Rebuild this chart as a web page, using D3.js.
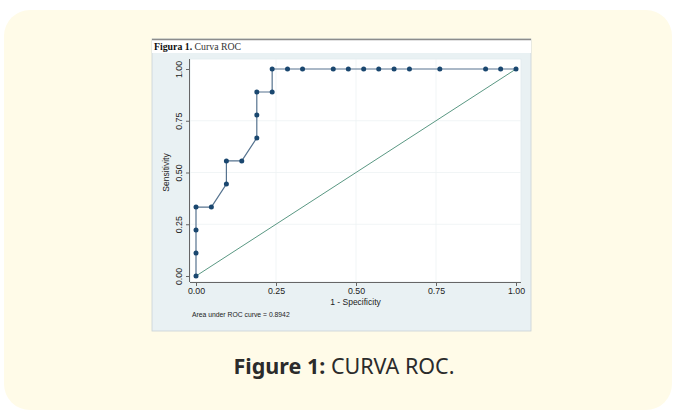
<!DOCTYPE html>
<html>
<head>
<meta charset="utf-8">
<script src="https://cdn.jsdelivr.net/npm/d3@7"></script>
<style>
  body { margin: 0; background: #fff; }
  svg { display: block; }
</style>
</head>
<body>
<svg id="chart" width="675" height="410"></svg>
<script>
// datos de la curva ROC
var fpr = [0, 0, 0, 0, 0.048, 0.095, 0.095, 0.143, 0.190, 0.190, 0.190, 0.238, 0.238,
           0.286, 0.333, 0.429, 0.476, 0.524, 0.571, 0.619, 0.667, 0.762, 0.905, 0.952, 1];
var tpr = [0, 0.111, 0.222, 0.333, 0.333, 0.444, 0.556, 0.556, 0.667, 0.778, 0.889, 0.889, 1,
           1, 1, 1, 1, 1, 1, 1, 1, 1, 1, 1, 1];
var tickValues = [0, 0.25, 0.5, 0.75, 1];
var tickLabels = ["0.00", "0.25", "0.50", "0.75", "1.00"];
var aucText = "Area under ROC curve = 0.8942";

var svg = d3.select("#chart");

// tarjeta de fondo
svg.append("rect")
  .attr("x", 4).attr("y", 10).attr("width", 668).attr("height", 400)
  .attr("rx", 26).attr("fill", "#fffbe8");

// imagen de la figura
var fig = svg.append("g");
fig.append("rect").attr("x", 152).attr("y", 39).attr("width", 379).attr("height", 292)
  .attr("fill", "#e9f1f3").attr("stroke", "#c9d2d6").attr("stroke-width", 0.8);
fig.append("rect").attr("x", 152).attr("y", 39).attr("width", 379).attr("height", 14)
  .attr("fill", "#fff");
fig.append("line").attr("x1", 152).attr("x2", 531).attr("y1", 39.5).attr("y2", 39.5)
  .attr("stroke", "#8c8c8c").attr("stroke-width", 1.5);
var t = fig.append("text").attr("x", 154).attr("y", 50)
  .attr("font-family", "Liberation Serif").attr("font-size", 9.8).attr("fill", "#333");
t.append("tspan").attr("font-weight", "bold").attr("fill", "#111").text("Figura 1. ");
t.append("tspan").text("Curva ROC");

// region del grafico
var x = d3.scaleLinear().domain([0, 1]).range([196, 516]);
var y = d3.scaleLinear().domain([0, 1]).range([276, 69]);

fig.append("rect").attr("x", 190).attr("y", 59).attr("width", 331).attr("height", 223)
  .attr("fill", "#fff").attr("stroke", "#e2eaee").attr("stroke-width", 0.8);

// lineas de cuadricula
var grid = fig.append("g").attr("stroke", "#edf2f4").attr("stroke-width", 0.8);
grid.selectAll(".gx").data(tickValues.slice(1, 4)).enter().append("line")
  .attr("x1", function (d) { return x(d); }).attr("x2", function (d) { return x(d); })
  .attr("y1", 59).attr("y2", 282);
grid.selectAll(".gy").data(tickValues.slice(1, 4)).enter().append("line")
  .attr("y1", function (d) { return y(d); }).attr("y2", function (d) { return y(d); })
  .attr("x1", 190).attr("x2", 521);

// ejes
var xAxis = d3.axisBottom(x).tickValues(tickValues).tickSize(4).tickSizeOuter(0)
  .tickFormat(function (d, i) { return tickLabels[i]; });
var gx = fig.append("g").attr("transform", "translate(0,282)").call(xAxis);
gx.select(".domain").attr("d", "M190,0.5H521").attr("stroke", "#666");
gx.selectAll(".tick line").attr("stroke", "#666");
gx.selectAll(".tick text").attr("y", 6).attr("font-family", "Liberation Sans")
  .attr("font-size", 8.8).attr("fill", "#222");

var yAxis = d3.axisLeft(y).tickValues(tickValues).tickSize(4).tickSizeOuter(0)
  .tickFormat(function (d, i) { return tickLabels[i]; });
var gy = fig.append("g").attr("transform", "translate(190,0)").call(yAxis);
gy.select(".domain").attr("d", "M-0.5,59V282").attr("stroke", "#666");
gy.selectAll(".tick line").attr("stroke", "#666");
gy.selectAll(".tick text")
  .attr("x", null).attr("dy", null)
  .attr("transform", "translate(-8,0) rotate(-90)")
  .attr("text-anchor", "middle")
  .attr("y", 0)
  .attr("font-family", "Liberation Sans").attr("font-size", 8.8).attr("fill", "#222");

// titulos de ejes
fig.append("text").attr("x", 355.5).attr("y", 305).attr("text-anchor", "middle")
  .attr("font-family", "Liberation Sans").attr("font-size", 8.5).attr("fill", "#222")
  .text("1 - Specificity");
fig.append("text").attr("transform", "translate(168.5,172.5) rotate(-90)")
  .attr("text-anchor", "middle")
  .attr("font-family", "Liberation Sans").attr("font-size", 8.5).attr("fill", "#222")
  .text("Sensitivity");
fig.append("text").attr("x", 192).attr("y", 316.5)
  .attr("font-family", "Liberation Sans").attr("font-size", 6.8).attr("fill", "#222")
  .text(aucText);

// linea de referencia
fig.append("line")
  .attr("x1", x(0)).attr("y1", y(0)).attr("x2", x(1)).attr("y2", y(1))
  .attr("stroke", "#5a9883").attr("stroke-width", 1);

// curva ROC
var pts = fpr.map(function (d, i) { return [d, tpr[i]]; });
fig.append("path").datum(pts)
  .attr("d", d3.line().x(function (d) { return x(d[0]); }).y(function (d) { return y(d[1]); }))
  .attr("fill", "none").attr("stroke", "#56738f").attr("stroke-width", 1.2);
fig.selectAll(".pt").data(pts).enter().append("circle")
  .attr("cx", function (d) { return x(d[0]); })
  .attr("cy", function (d) { return y(d[1]); })
  .attr("r", 2.5).attr("fill", "#1a476f");

// pie de figura
var cap = svg.append("text").attr("x", 344).attr("y", 374).attr("text-anchor", "middle")
  .attr("font-family", "Noto Sans").attr("font-size", 21.5).attr("fill", "#2b2b2b");
cap.append("tspan").attr("font-weight", "bold").text("Figure 1: ");
cap.append("tspan").text("CURVA ROC.");
</script>
</body>
</html>
